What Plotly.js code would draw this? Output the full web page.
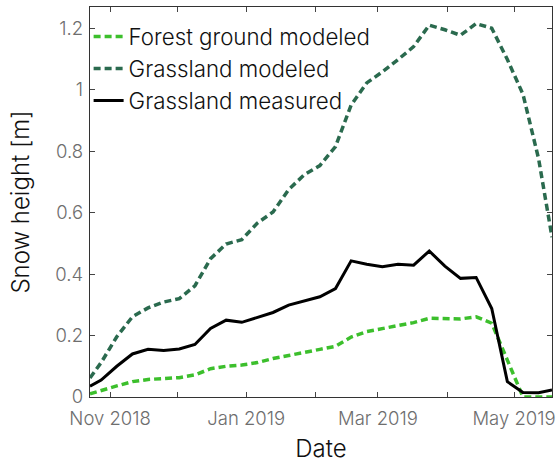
<!DOCTYPE html>
<html>
<head>
<meta charset="utf-8">
<script src="https://cdn.plot.ly/plotly-3.0.1.min.js"></script>
<style>html,body{margin:0;padding:0;background:#fff}#chart{width:556px;height:463px}</style>
</head>
<body>
<div id="chart"></div>
<script>
const dates = ['2018-10-23','2018-10-28','2018-11-04','2018-11-11','2018-11-18','2018-11-25','2018-12-02','2018-12-09','2018-12-16','2018-12-23','2018-12-30','2019-01-06','2019-01-13','2019-01-20','2019-01-27','2019-02-03','2019-02-10','2019-02-17','2019-02-24','2019-03-03','2019-03-10','2019-03-17','2019-03-24','2019-03-31','2019-04-07','2019-04-14','2019-04-21','2019-04-28','2019-05-05','2019-05-12','2019-05-18'];
const forestModeled = [0.010,0.022,0.036,0.050,0.057,0.060,0.063,0.072,0.092,0.100,0.104,0.112,0.125,0.135,0.146,0.155,0.165,0.195,0.213,0.222,0.231,0.242,0.256,0.254,0.254,0.261,0.240,0.120,0.0,0.0,0.0];
const grassModeled = [0.062,0.112,0.196,0.261,0.290,0.309,0.320,0.362,0.450,0.498,0.512,0.566,0.602,0.675,0.723,0.753,0.815,0.950,1.022,1.058,1.098,1.140,1.210,1.195,1.177,1.215,1.200,1.098,0.985,0.775,0.520];
const grassMeasured = [0.035,0.055,0.100,0.140,0.155,0.151,0.156,0.171,0.223,0.250,0.243,0.258,0.275,0.299,0.313,0.326,0.353,0.443,0.432,0.424,0.432,0.429,0.475,0.426,0.386,0.389,0.288,0.050,0.015,0.014,0.023];
const seriesNames = ['Forest ground modeled','Grassland modeled','Grassland measured'];
const xTickVals = ['2018-11-01','2018-12-01','2019-01-01','2019-02-01','2019-03-01','2019-04-01','2019-05-01'];
const xTickText = ['Nov 2018','','Jan 2019','','Mar 2019','','May 2019'];
const yTickVals = [0,0.2,0.4,0.6,0.8,1,1.2];
const yTickText = ['0','0.2','0.4','0.6','0.8','1','1.2'];

const FONT = 'Inter, Liberation Sans, Arial, sans-serif';
const W = 300;
const traces = [
  {x: dates, y: forestModeled, name: seriesNames[0], mode: 'lines',
   line: {color: '#3cbf2c', width: 3.5, dash: '7px,4px'}},
  {x: dates, y: grassModeled, name: seriesNames[1], mode: 'lines',
   line: {color: '#2a6a4e', width: 3.5, dash: '7px,4px'}},
  {x: dates, y: grassMeasured, name: seriesNames[2], mode: 'lines',
   line: {color: '#000000', width: 3}}
];
const layout = {
  width: 556, height: 463,
  margin: {l: 89.5, r: 4, t: 7, b: 66, pad: 0},
  paper_bgcolor: '#fff', plot_bgcolor: '#fff',
  font: {family: FONT, color: '#000', weight: W},
  showlegend: true,
  legend: {x: -0.003, y: 0.978, xanchor: 'left', yanchor: 'top', bgcolor: 'rgba(0,0,0,0)',
           font: {family: FONT, size: 22.3, color: '#111', weight: W}, itemwidth: 30, tracegroupgap: 0},
  xaxis: {
    type: 'date', range: ['2018-10-23','2019-05-18'],
    tickvals: xTickVals, ticktext: xTickText,
    ticks: 'inside', ticklen: 5, tickwidth: 1, tickcolor: '#444',
    showline: true, linecolor: '#333', linewidth: 1.2, mirror: 'ticks',
    showgrid: false, zeroline: false, ticklabelstandoff: 5,
    tickfont: {family: FONT, size: 18.5, color: '#6e6e6e', weight: W},
    title: {text: 'Date', font: {family: FONT, size: 24, color: '#111', weight: W}, standoff: 14}
  },
  yaxis: {
    range: [0, 1.269],
    tickvals: yTickVals, ticktext: yTickText,
    ticks: 'inside', ticklen: 5, tickwidth: 1, tickcolor: '#444',
    showline: true, linecolor: '#333', linewidth: 1.2, mirror: 'ticks',
    showgrid: false, zeroline: false, ticklabelstandoff: 2,
    tickfont: {family: FONT, size: 18.5, color: '#6e6e6e', weight: W},
    title: {text: 'Snow height [m]', font: {family: FONT, size: 24, color: '#111', weight: W}, standoff: 18}
  }
};
Plotly.newPlot('chart', traces, layout, {staticPlot: true, displayModeBar: false});
</script>
</body>
</html>
